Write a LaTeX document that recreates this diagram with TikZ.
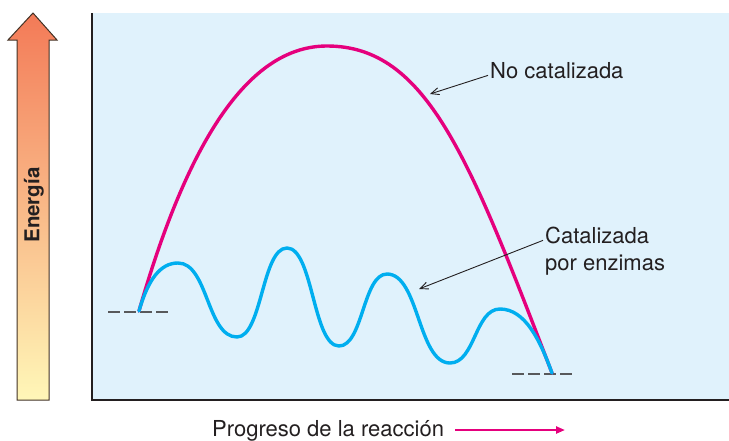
\documentclass[tikz,border=0pt]{standalone}
\usepackage{fontspec}
\setmainfont{TeX Gyre Heros}
\usetikzlibrary{arrows.meta}
\definecolor{panelblue}{HTML}{E0F2FC}
\definecolor{nocatmag}{HTML}{E5007D}
\definecolor{catcyan}{HTML}{00AEEF}
\definecolor{lvlgray}{HTML}{58595B}
\definecolor{inkgray}{HTML}{231F20}
\definecolor{hotorange}{HTML}{F37A57}
\definecolor{paleyellow}{HTML}{FFF7B8}

\begin{document}
\begin{tikzpicture}[x=1pt,y=-1pt,
  curve/.style={line width=3.4pt, line cap=round, line join=round},
  lvl/.style={lvlgray, line width=2pt, dash pattern=on 12pt off 4pt},
  lbl/.style={inkgray, font=\fontsize{22}{27}\selectfont, inner sep=2pt},
  lblarrow/.style={inkgray, line width=0.9pt, -{Straight Barb[length=8pt,width=7pt]}}]
\useasboundingbox (0,0) rectangle (729,440);
% energy arrow
\shade[top color=hotorange, bottom color=paleyellow]
  (17,400) -- (49,400) -- (49,40) -- (57,40) -- (33,13) -- (8,40) -- (17,40) -- cycle;
\draw[inkgray!80!brown, line width=1pt, line join=miter]
  (17,400) -- (49,400) -- (49,40) -- (57,40) -- (33,13) -- (8,40) -- (17,40) -- cycle;
\node[inkgray, font=\fontsize{20.5}{22}\selectfont\bfseries, rotate=90] (energia) at (34,205) {Energía};
% panel and axes
\fill[panelblue] (92,13) rectangle (729,400);
\draw[inkgray, line width=2pt] (92,13) -- (92,400) -- (729,400);
% energy levels
\draw[lvl] (108,312) -- (168,312);
\draw[lvl] (512,374) -- (572,374);
% uncatalysed path
\draw[curve, nocatmag] (139,311) .. controls (190,133) and (252,46) .. (327,46)
  .. controls (427,46) and (469.5,158.5) .. (552,373);
% enzyme catalysed path
\draw[curve, catcyan] (139,311) .. controls (148,280) and (160,263) .. (178,263)
  .. controls (208,263) and (207,337) .. (237,337)
  .. controls (262,337) and (262,248) .. (287,248)
  .. controls (313,248) and (313,346) .. (339,346)
  .. controls (363,346) and (363,274) .. (387,274)
  .. controls (419,274) and (418,363) .. (450,363)
  .. controls (475,363) and (475,309) .. (500,309)
  .. controls (525,309) and (540,340) .. (552,373);
% labels
\node[lbl, anchor=base west] (nocat) at (488,78) {No catalizada};
\coordinate (nocattip) at (430,94);
\draw[lblarrow] (nocat.mid west) -- (nocattip);
\node[lbl, anchor=north west, align=left] (catlbl) at (543,225) {Catalizada\\por enzimas};
\coordinate (cattip) at (419,289);
\draw[lblarrow] (catlbl.170) -- (cattip);
\node[lbl, anchor=base west, inner sep=0pt] (progress) at (212,436) {Progreso de la reacción};
\coordinate (progtip) at (565,430);
\coordinate (progstart) at ([xshift=11pt]progress.east);
\draw[nocatmag, line width=2.2pt, -{Triangle[length=9pt,width=7pt]}]
  (progstart |- progtip) -- (progtip);
\end{tikzpicture}
\end{document}
